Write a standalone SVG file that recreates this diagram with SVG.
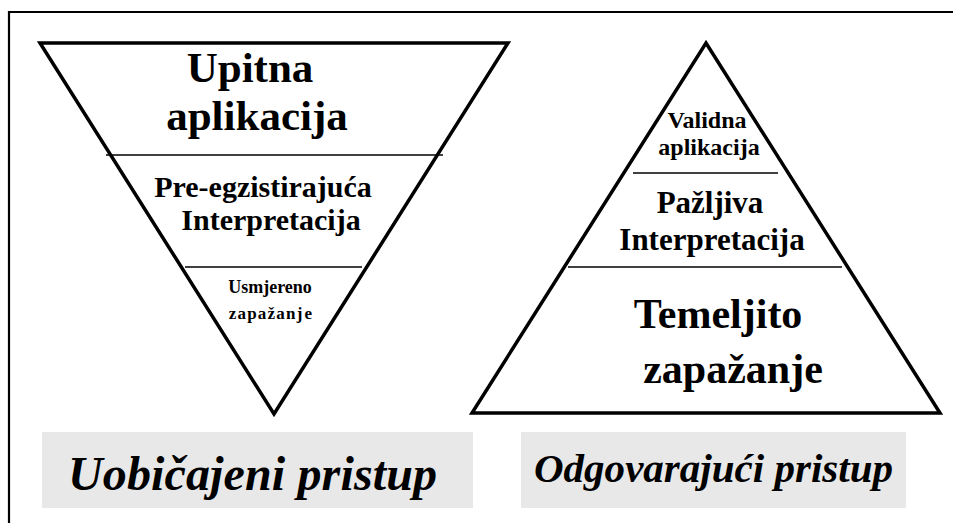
<svg xmlns="http://www.w3.org/2000/svg" width="953" height="523" viewBox="0 0 953 523">
<style>
.tri{fill:#fff;stroke:#000;stroke-width:3.5;stroke-linejoin:miter}
.sep{stroke:#000;stroke-width:1.6}
.t{font-family:"Liberation Serif","Times New Roman",serif;font-weight:bold;text-anchor:middle;fill:#000}
.cap{font-family:"Liberation Serif","Times New Roman",serif;font-weight:bold;font-style:italic;fill:#000}
.box{fill:#e8e8e8}
</style>
<rect width="953" height="523" fill="#fff"/>
<path d="M9,523 V12 H953" fill="none" stroke="#000" stroke-width="2.2"/>
<g id="left-triangle">
<polygon class="tri" points="40,43 508,43 274,414"/>
<line class="sep" x1="106" y1="155" x2="443" y2="155"/>
<line class="sep" x1="185" y1="267" x2="362" y2="267"/>
<text class="t" x="250" y="82" font-size="43">Upitna</text>
<text class="t" x="257" y="130" font-size="43">aplikacija</text>
<text class="t" x="263" y="197" font-size="30">Pre-egzistirajuća</text>
<text class="t" x="271" y="230" font-size="30">Interpretacija</text>
<text class="t" x="270" y="293" font-size="18">Usmjereno</text>
<text class="t" x="271" y="319" font-size="17" letter-spacing="1.2">zapažanj<tspan dx="1">e</tspan></text>
</g>
<g id="right-triangle">
<polygon class="tri" points="706,43 940,413 472,413"/>
<line class="sep" x1="633" y1="173" x2="778" y2="173"/>
<line class="sep" x1="568" y1="267" x2="842" y2="267"/>
<text class="t" x="707" y="128" font-size="24">Validna</text>
<text class="t" x="709" y="155" font-size="24">aplikacija</text>
<text class="t" x="710" y="213" font-size="31">Pažljiva</text>
<text class="t" x="712" y="250" font-size="31">Interpretacija</text>
<text class="t" x="718" y="328" font-size="42">Temeljito</text>
<text class="t" x="733" y="383" font-size="42">zapažanje</text>
</g>
<g id="label-left">
<rect class="box" x="42" y="432" width="431" height="76"/>
<text class="cap" x="68" y="490" font-size="48" textLength="369">Uobičajeni pristup</text>
</g>
<g id="label-right">
<rect class="box" x="521" y="432" width="385" height="76"/>
<text class="cap" x="534" y="482" font-size="41" textLength="359">Odgovarajući pristup</text>
</g>
</svg>
